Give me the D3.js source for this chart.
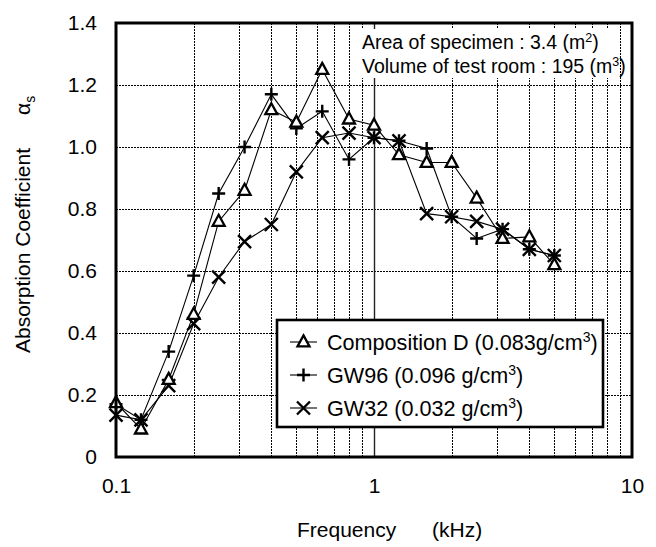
<!DOCTYPE html>
<html>
<head>
<meta charset="utf-8">
<script src="https://cdn.jsdelivr.net/npm/d3@7"></script>
<style>
  html, body { margin: 0; padding: 0; background: #fff; }
  svg { display: block; font-family: "Liberation Sans", Arial, sans-serif; }
</style>
</head>
<body>
<svg id="chart" width="656" height="547"></svg>
<script>
// ---- data ----
const frequencies = [0.1, 0.125, 0.16, 0.2, 0.25, 0.315, 0.4, 0.5, 0.63, 0.8, 1, 1.25, 1.6, 2, 2.5, 3.15, 4, 5];
const compositionD = [0.175, 0.09, 0.25, 0.46, 0.76, 0.86, 1.12, 1.08, 1.25, 1.09, 1.07, 0.975, 0.95, 0.95, 0.835, 0.705, 0.71, 0.62];
const gw96 = [0.17, 0.12, 0.34, 0.585, 0.85, 1.0, 1.17, 1.06, 1.115, 0.96, 1.03, 1.02, 0.995, 0.775, 0.705, 0.735, 0.67, 0.65];
const gw32 = [0.135, 0.12, 0.23, 0.43, 0.58, 0.695, 0.75, 0.92, 1.03, 1.045, 1.03, 1.02, 0.785, 0.775, 0.76, 0.735, 0.67, 0.65];
const seriesNames = ["Composition D (0.083g/cm", "GW96 (0.096 g/cm", "GW32 (0.032 g/cm"];
const seriesMarkers = ["triangle", "plus", "cross"];
const yTicks = [0, 0.2, 0.4, 0.6, 0.8, 1.0, 1.2, 1.4];
const xTickLabels = [0.1, 1, 10];
const noteLines = ["Area of specimen : 3.4 (m", "Volume of test room : 195 (m"];
const noteSups = ["2", "3"];

const svg = d3.select("#chart");
const L = 116, R = 632, T = 23, B = 457;
const x = d3.scaleLog().domain([0.1, 10]).range([L, R]);
const y = d3.scaleLinear().domain([0, 1.4]).range([B, T]);

// ---- grid ----
const grid = svg.append("g");
const minorX = x.ticks().filter(v => v !== 0.1 && v !== 10 && v !== 1);
grid.selectAll("line.vx").data(minorX).join("line")
  .attr("x1", d => Math.round(x(d)) + 0.5).attr("x2", d => Math.round(x(d)) + 0.5)
  .attr("y1", T).attr("y2", B)
  .attr("stroke", "#000").attr("stroke-width", 1).attr("stroke-dasharray", "2,1");
grid.selectAll("line.hy").data(yTicks.filter(v => v > 0 && v < 1.4)).join("line")
  .attr("x1", L).attr("x2", R)
  .attr("y1", d => Math.round(y(d)) + 0.5).attr("y2", d => Math.round(y(d)) + 0.5)
  .attr("stroke", "#000").attr("stroke-width", 1).attr("stroke-dasharray", "2,1");
// solid line at 1 kHz
grid.append("line")
  .attr("x1", Math.round(x(1)) + 0.5).attr("x2", Math.round(x(1)) + 0.5)
  .attr("y1", T).attr("y2", B)
  .attr("stroke", "#222").attr("stroke-width", 1.4);

// ---- annotation box ----
svg.append("rect").attr("x", 354).attr("y", 29).attr("width", 264).attr("height", 49).attr("fill", "#fff");
noteLines.forEach((t, i) => {
  const tx = svg.append("text").attr("x", 362).attr("y", 49 + i * 24)
    .attr("font-size", 19.5).attr("fill", "#000");
  tx.append("tspan").text(t);
  tx.append("tspan").attr("dy", -7).attr("font-size", 12.5).text(noteSups[i]);
  tx.append("tspan").attr("dy", 7).text(")");
});

// ---- axes (labels only) ----
const yAxis = d3.axisLeft(y).tickValues(yTicks).tickSize(0).tickPadding(19)
  .tickFormat(d => d === 0 ? "0" : d3.format(".1f")(d));
const gy = svg.append("g").attr("transform", `translate(${L},0)`).call(yAxis);
gy.select(".domain").remove();
gy.selectAll("text").attr("font-size", 21).attr("font-family", "Liberation Sans, Arial, sans-serif").attr("fill", "#000");

const xAxis = d3.axisBottom(x).tickValues(xTickLabels).tickSize(0).tickPadding(21)
  .tickFormat(d => String(d));
const gx = svg.append("g").attr("transform", `translate(0,${B})`).call(xAxis);
gx.select(".domain").remove();
gx.selectAll("text").attr("font-size", 21).attr("font-family", "Liberation Sans, Arial, sans-serif").attr("fill", "#000");

// axis titles
const xt = svg.append("text").attr("y", 537).attr("font-size", 21).attr("fill", "#000");
xt.append("tspan").attr("x", 297).text("Frequency");
xt.append("tspan").attr("x", 432).text("(kHz)");

const yt = svg.append("text").attr("transform", "translate(30,353) rotate(-90)")
  .attr("font-size", 21).attr("fill", "#000");
yt.append("tspan").attr("x", 0).attr("y", 0).text("Absorption Coefficient");
yt.append("tspan").attr("x", 238).attr("y", 0).text("α");
yt.append("tspan").attr("dy", 5).attr("font-size", 14).text("s");

// ---- series ----
const allSeries = [compositionD, gw96, gw32];
const line = d3.line().x((d, i) => x(frequencies[i])).y(d => y(d));

function drawMarker(g, type, cx, cy) {
  if (type === "triangle") {
    const h = 11, w = 12;
    g.append("path")
      .attr("d", `M${cx},${cy - h * 0.6}L${cx + w / 2},${cy + h * 0.4}L${cx - w / 2},${cy + h * 0.4}Z`)
      .attr("fill", "#fff").attr("stroke", "#000").attr("stroke-width", 2.3).attr("stroke-linejoin", "miter");
  } else if (type === "plus") {
    const s = 6.5;
    g.append("path").attr("d", `M${cx - s},${cy}H${cx + s}M${cx},${cy - s}V${cy + s}`)
      .attr("stroke", "#000").attr("stroke-width", 2.4).attr("fill", "none");
  } else {
    const s = 6.5;
    g.append("path").attr("d", `M${cx - s},${cy - s}L${cx + s},${cy + s}M${cx - s},${cy + s}L${cx + s},${cy - s}`)
      .attr("stroke", "#000").attr("stroke-width", 2.4).attr("fill", "none");
  }
}

const linesG = svg.append("g");
allSeries.forEach(s => {
  linesG.append("path").datum(s).attr("d", line)
    .attr("fill", "none").attr("stroke", "#000").attr("stroke-width", 1.1);
});
const markG = svg.append("g");
[2, 1, 0].forEach(k => {
  allSeries[k].forEach((v, i) => drawMarker(markG, seriesMarkers[k], x(frequencies[i]), y(v)));
});

// ---- legend ----
const lg = svg.append("g");
lg.append("rect").attr("x", 277).attr("y", 320).attr("width", 326).attr("height", 107)
  .attr("fill", "#fff").attr("stroke", "#000").attr("stroke-width", 2.6);
seriesNames.forEach((name, i) => {
  const cy = 342 + i * 33;
  lg.append("line").attr("x1", 290).attr("x2", 317).attr("y1", cy).attr("y2", cy)
    .attr("stroke", "#000").attr("stroke-width", 1.1);
  drawMarker(lg, seriesMarkers[i], 303.5, cy);
  const t = lg.append("text").attr("x", 327).attr("y", cy + 7.5).attr("font-size", 21.6).attr("fill", "#000");
  t.append("tspan").text(name);
  t.append("tspan").attr("dy", -8).attr("font-size", 14).text("3");
  t.append("tspan").attr("dy", 8).text(")");
});

// ---- frame ----
svg.append("rect").attr("x", L).attr("y", T).attr("width", R - L).attr("height", B - T)
  .attr("fill", "none").attr("stroke", "#000").attr("stroke-width", 3);
</script>
</body>
</html>
